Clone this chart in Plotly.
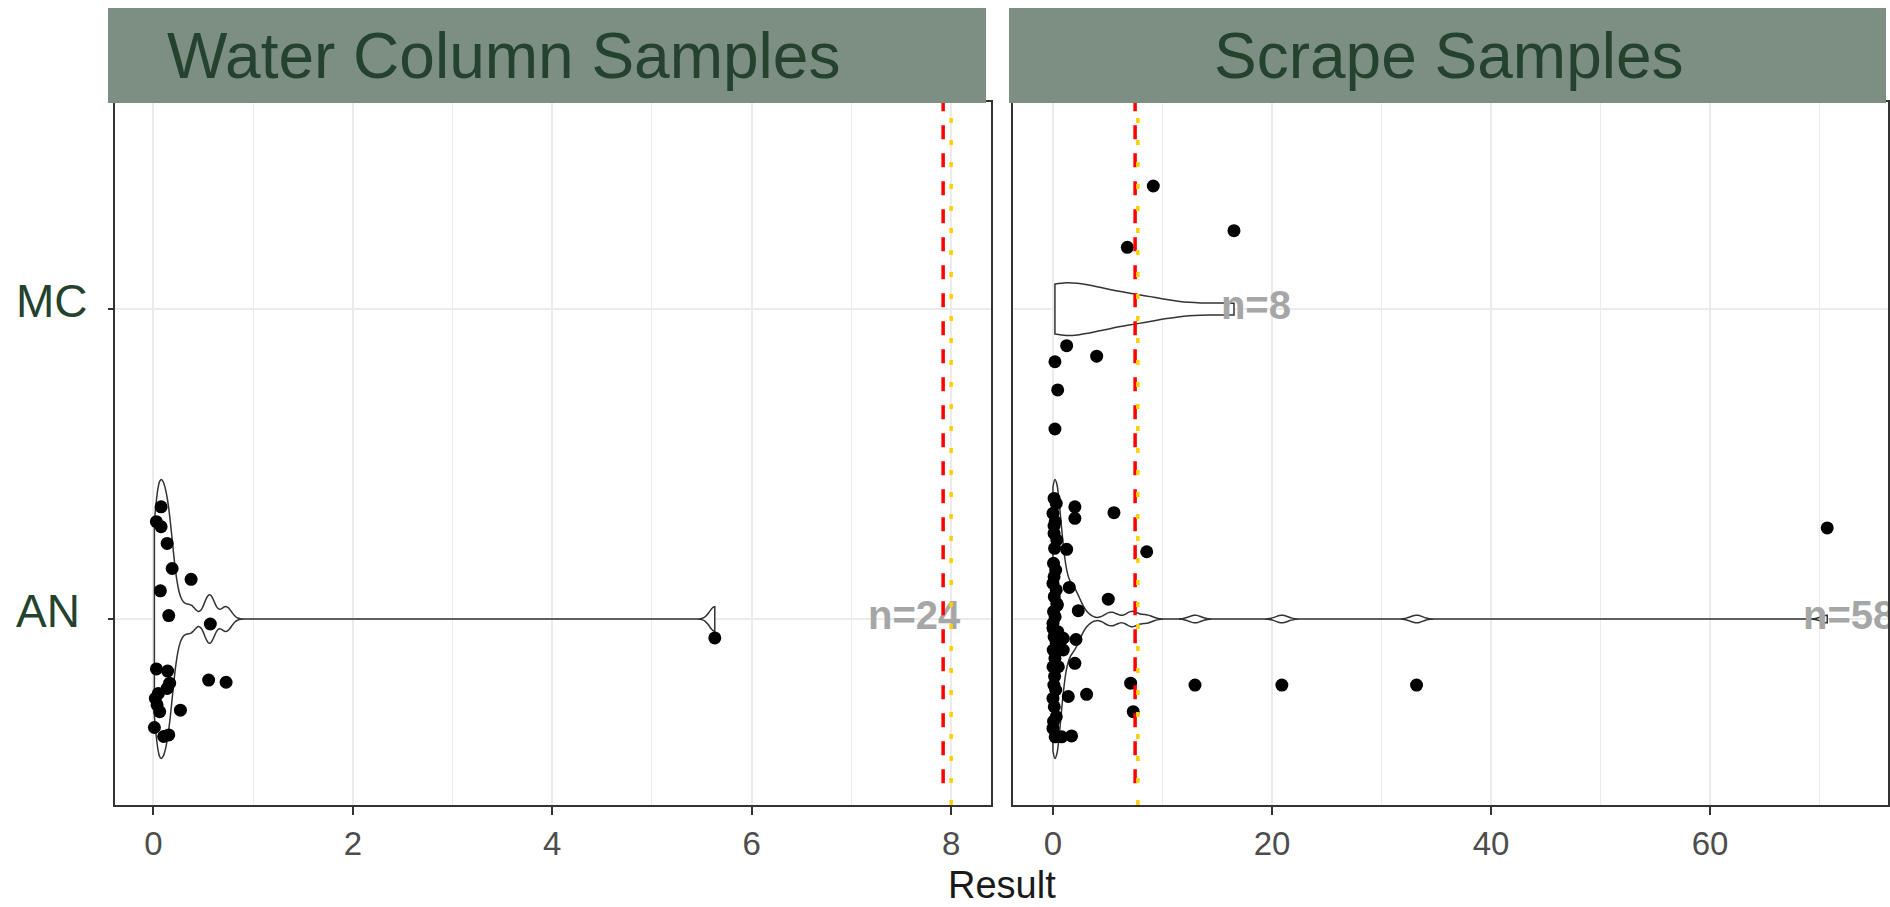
import numpy as np
import plotly.graph_objects as go

# ---------------- data ----------------
categories = ["AN", "MC"]
panel_titles = ["Water Column Samples", "Scrape Samples"]

# Water column samples, AN (n=24): result values and vertical jitter offsets
water_an_x = [0.077, 0.03, 0.077, 0.138, 0.188, 0.378, 0.07, 0.154, 0.571, 0.03,
              0.143, 0.163, 0.138, 0.02, 0.037, 0.063, 0.271, 0.554, 0.729, 0.01,
              0.103, 0.154, 0.05, 5.63]
water_an_jitter = [0.362, 0.314, 0.298, 0.244, 0.163, 0.128, 0.091, 0.011, -0.016, -0.161,
                   -0.168, -0.207, -0.224, -0.256, -0.277, -0.299, -0.294, -0.197, -0.204, -0.35,
                   -0.379, -0.374, -0.24, -0.061]

# Scrape samples, AN (n=58)
scrape_an_x = [2.0, 2.0, 5.57, 1.25, 8.56, 1.49, 5.05, 2.31, 2.1, 0.94,
               0.94, 2.0, 0.49, 3.07, 1.4, 7.09, 7.33, 12.97, 20.9, 33.2,
               1.7, 0.79, 70.7,
               0.1, 0.3, 0.0, 0.2, 0.1, 0.35, 0.15, 0.05, 0.25, 0.1,
               0.0, 0.3, 0.12, 0.4, 0.05, 0.2, 0.0, 0.45, 0.1, 0.3,
               0.02, 0.18, 0.0, 0.15, 0.08, 0.25, 0.0, 0.12, 0.3, 0.05,
               0.0, 0.2, 0.1, 0.35, 0.0]
scrape_an_jitter = [0.362, 0.325, 0.343, 0.225, 0.217, 0.102, 0.064, 0.027, -0.066, -0.062,
                    -0.1, -0.143, -0.154, -0.243, -0.25, -0.207, -0.299, -0.213, -0.213, -0.213,
                    -0.377, -0.38, 0.294,
                    0.389, 0.373, 0.341, 0.314, 0.276, 0.255, 0.228, 0.18, 0.158, 0.136,
                    0.115, 0.094, 0.072, 0.045, 0.024, 0.007, -0.014, -0.041, -0.057, -0.078,
                    -0.1, -0.127, -0.154, -0.185, -0.213, -0.229, -0.256, -0.283, -0.315, -0.33,
                    -0.353, -0.38, 0.3, 0.05, -0.03]

# Scrape samples, MC (n=8)
scrape_mc_x = [9.16, 16.53, 6.79, 1.25, 3.99, 0.18, 0.43, 0.18]
scrape_mc_jitter = [0.397, 0.253, 0.199, -0.118, -0.152, -0.17, -0.261, -0.387]

water_ticks = [0, 2, 4, 6, 8]
water_minor = [1, 3, 5, 7]
scrape_ticks = [0, 20, 40, 60]
scrape_minor = [10, 30, 50, 70]

water_red_line = 7.92
water_yellow_line = 8.0
scrape_red_line = 7.5
scrape_yellow_line = 7.75

# ---------------- helpers ----------------
W, H = 1890, 907
FONT = "Liberation Sans, Arial, sans-serif"
cat_pos = {c: i + 1 for i, c in enumerate(categories)}


def px_x(p):
    return p / W


def px_y(p):
    return 1 - p / H


def nrd0(v):
    v = np.asarray(v, float)
    sd = v.std(ddof=1)
    q75, q25 = np.percentile(v, [75, 25])
    return 0.9 * min(sd, (q75 - q25) / 1.34) * len(v) ** -0.2


def violin(xvals, cat, xa, ya, width):
    return go.Violin(
        x=xvals, y0=cat_pos[cat], orientation="h", xaxis=xa, yaxis=ya,
        width=width, scalemode="width", spanmode="hard", bandwidth=nrd0(xvals),
        line=dict(color="#333333", width=1.5), fillcolor="white", points=False,
        box_visible=False, meanline_visible=False, hoverinfo="skip",
        showlegend=False, side="both",
    )


def points(xvals, jit, cat, xa, ya):
    return go.Scatter(
        x=xvals, y=[cat_pos[cat] + j for j in jit], mode="markers",
        marker=dict(color="black", size=13), xaxis=xa, yaxis=ya,
        hoverinfo="skip", showlegend=False,
    )


def nlabel(xvals, cat, xa, ya):
    return go.Scatter(
        x=[max(xvals) + 2], y=[cat_pos[cat]], text=[f"n={len(xvals)}"], mode="text",
        textposition="middle center", cliponaxis=True,
        textfont=dict(family=FONT, size=40, color="#A6A6A6", weight="bold"),
        xaxis=xa, yaxis=ya, hoverinfo="skip", showlegend=False,
    )


fig = go.Figure()
fig.add_trace(violin(water_an_x, "AN", "x", "y", 0.9))
fig.add_trace(violin(scrape_an_x, "AN", "x2", "y2", 0.9))
fig.add_trace(violin(scrape_mc_x, "MC", "x2", "y2", 0.17))
fig.add_trace(points(water_an_x, water_an_jitter, "AN", "x", "y"))
fig.add_trace(points(scrape_an_x, scrape_an_jitter, "AN", "x2", "y2"))
fig.add_trace(points(scrape_mc_x, scrape_mc_jitter, "MC", "x2", "y2"))
fig.add_trace(nlabel(water_an_x, "AN", "x", "y"))
fig.add_trace(nlabel(scrape_an_x, "AN", "x2", "y2"))
fig.add_trace(nlabel(scrape_mc_x, "MC", "x2", "y2"))

GRID = "#EBEBEB"
BORDER = "#333333"


def xaxis_cfg(dom, rng, ticks, minor):
    return dict(
        domain=dom, range=rng, tickmode="array", tickvals=ticks,
        ticktext=[str(t) for t in ticks],
        ticks="outside", ticklen=8, tickwidth=1.5, tickcolor=BORDER,
        tickfont=dict(family=FONT, size=33, color="#4D4D4D"),
        showgrid=True, gridcolor=GRID, gridwidth=1.6,
        minor=dict(tickmode="array", tickvals=minor, showgrid=True,
                   gridcolor=GRID, gridwidth=1.2, ticks=""),
        showline=True, mirror=True, linecolor=BORDER, linewidth=2,
        zeroline=False, fixedrange=True,
    )


def yaxis_cfg(anchor, ticks):
    return dict(
        domain=[px_y(805), px_y(102)], range=[0.4, 2.668], anchor=anchor,
        tickmode="array", tickvals=list(cat_pos.values()), showticklabels=False,
        ticks=ticks, ticklen=5, tickwidth=1.5, tickcolor=BORDER,
        showgrid=True, gridcolor=GRID, gridwidth=1.6,
        showline=True, mirror=True, linecolor=BORDER, linewidth=2,
        zeroline=False, fixedrange=True,
    )


fig.update_layout(
    width=W, height=H, margin=dict(l=0, r=0, t=0, b=0),
    paper_bgcolor="white", plot_bgcolor="white",
    xaxis=xaxis_cfg([px_x(115), px_x(991)], [-0.385, 8.40], water_ticks, water_minor) | dict(anchor="y"),
    xaxis2=xaxis_cfg([px_x(1013), px_x(1888)], [-3.65, 76.25], scrape_ticks, scrape_minor) | dict(anchor="y2"),
    yaxis=yaxis_cfg("x", "outside"),
    yaxis2=yaxis_cfg("x2", ""),
    showlegend=False,
)

shapes = []
# threshold lines
for xa, ya, red, yel in [("x", "y", water_red_line, water_yellow_line),
                         ("x2", "y2", scrape_red_line, scrape_yellow_line)]:
    shapes.append(dict(type="line", xref=xa, yref=ya, x0=red, x1=red, y0=0.47, y1=2.668,
                       line=dict(color="#FF0000", width=3.5, dash="14px,14px"), layer="above"))
    shapes.append(dict(type="line", xref=xa, yref=f"{ya} domain", x0=yel, x1=yel, y0=0, y1=1,
                       line=dict(color="#FFD000", width=3.5, dash="5px,17px"), layer="above"))
# strip headers
for x0, x1 in [(108, 986), (1009, 1886)]:
    shapes.append(dict(type="rect", xref="paper", yref="paper",
                       x0=px_x(x0), x1=px_x(x1), y0=px_y(103), y1=px_y(8),
                       fillcolor="#7D8F82", line=dict(width=0), layer="above"))
fig.update_layout(shapes=shapes)

ann = []
ann.append(dict(text=panel_titles[0], xref="paper", yref="paper", x=px_x(165), y=px_y(56),
                xanchor="left", yanchor="middle", showarrow=False,
                font=dict(family=FONT, size=64, color="#24422E")))
ann.append(dict(text=panel_titles[1], xref="paper", yref="paper", x=px_x(1449), y=px_y(56),
                xanchor="center", yanchor="middle", showarrow=False,
                font=dict(family=FONT, size=64, color="#24422E")))
for c in categories:
    ann.append(dict(text=c, xref="paper", yref="y", x=px_x(14), y=cat_pos[c], yshift=8,
                    xanchor="left", yanchor="middle", showarrow=False,
                    font=dict(family=FONT, size=46, color="#24422E")))
ann.append(dict(text="Result", xref="paper", yref="paper", x=px_x(1002), y=0,
                xanchor="center", yanchor="bottom", showarrow=False, borderpad=0,
                font=dict(family=FONT, size=38, color="#1A1A1A")))
fig.update_layout(annotations=ann)

fig.write_html("out.html", config={"displayModeBar": False},
               post_script="document.body.style.margin='0';document.body.style.overflow='hidden';")
